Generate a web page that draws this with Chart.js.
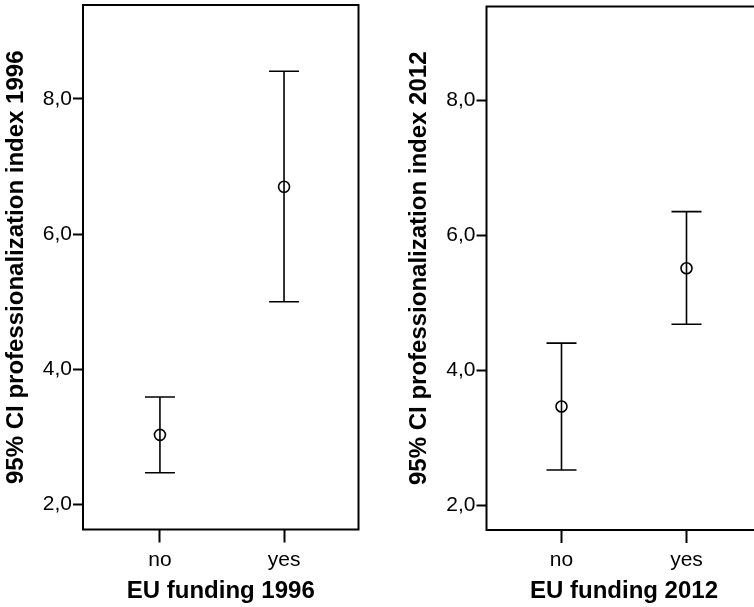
<!DOCTYPE html>
<html>
<head>
<meta charset="utf-8">
<script src="https://cdn.jsdelivr.net/npm/chart.js@4.4.1/dist/chart.umd.min.js"></script>
<style>
  html, body { margin: 0; padding: 0; background: #fff; overflow: hidden; width: 754px; height: 607px; }
  .panel { position: absolute; top: 0; height: 607px; }
</style>
</head>
<body>
<div class="panel" style="left:0;width:377px"><canvas id="c1996"></canvas></div>
<div class="panel" style="left:403px;width:400px"><canvas id="c2012"></canvas></div>
<script>
// data
const categories = ['no', 'yes'];
const yTicks = [2, 4, 6, 8];

const mean1996 = [3.03, 6.70];
const lower1996 = [2.47, 5.00];
const upper1996 = [3.59, 8.41];

const mean2012 = [3.46, 5.51];
const lower2012 = [2.52, 4.68];
const upper2012 = [4.40, 6.35];

const FONT = "'Liberation Sans', Arial, sans-serif";

// box around the plot area
const framePlugin = {
  id: 'frame',
  afterDraw(chart) {
    const a = chart.chartArea, ctx = chart.ctx;
    ctx.save();
    ctx.strokeStyle = '#000';
    ctx.lineWidth = 2;
    ctx.strokeRect(a.left, a.top, a.right - a.left, a.bottom - a.top);
    ctx.restore();
  }
};

function makeChart(id, year, mean, lower, upper, opts) {
  const datasets = [{
    type: 'scatter',
    data: mean.map((v, i) => ({ x: i, y: v })),
    pointStyle: 'circle',
    pointRadius: 5.5,
    pointBorderWidth: 1.6,
    pointBorderColor: '#000',
    pointBackgroundColor: 'rgba(0,0,0,0)'
  }];
  categories.forEach((c, i) => {
    datasets.push({
      type: 'line',
      data: [{ x: i, y: lower[i] }, { x: i, y: upper[i] }],
      borderColor: '#000',
      borderWidth: 1.6,
      pointStyle: 'line',
      pointRadius: 15,
      pointBorderWidth: 1.6,
      pointBorderColor: '#000',
      showLine: true,
      fill: false
    });
  });

  return new Chart(document.getElementById(id), {
    data: { datasets },
    options: {
      responsive: true,
      maintainAspectRatio: false,
      animation: false,
      layout: { autoPadding: false, padding: { top: opts.top, right: opts.right, left: 0, bottom: 0 } },
      plugins: { legend: { display: false }, tooltip: { enabled: false } },
      scales: {
        x: {
          type: 'linear',
          min: opts.xmin,
          max: opts.xmax,
          afterBuildTicks: s => { s.ticks = categories.map((c, i) => ({ value: i })); },
          afterFit: s => { s.height = opts.xh; s.paddingLeft = 0; s.paddingRight = 0; },
          ticks: {
            color: '#000',
            font: { family: FONT, size: 21 },
            padding: 5,
            maxRotation: 0,
            callback: v => categories[v]
          },
          grid: { drawOnChartArea: false, drawTicks: true, tickLength: 13, tickWidth: 2, tickColor: '#000' },
          border: { display: false },
          title: {
            display: true,
            text: 'EU funding ' + year,
            color: '#000',
            font: { family: FONT, size: 24, weight: 'bold' },
            padding: { top: 0, bottom: 1 }
          }
        },
        y: {
          type: 'linear',
          min: 1.63,
          max: 9.39,
          afterBuildTicks: s => { s.ticks = yTicks.map(v => ({ value: v })); },
          afterFit: s => { s.width = opts.yw; s.paddingTop = 0; s.paddingBottom = 0; },
          ticks: {
            color: '#000',
            font: { family: FONT, size: 21 },
            padding: 1,
            callback: v => v.toFixed(1).replace('.', ',')
          },
          grid: { drawOnChartArea: false, drawTicks: true, tickLength: 10, tickWidth: 2, tickColor: '#000' },
          border: { display: false },
          title: {
            display: true,
            text: '95% CI professionalization index ' + year,
            color: '#000',
            font: { family: FONT, size: 24, weight: 'bold' },
            padding: { top: 2, bottom: 0 }
          }
        }
      }
    },
    plugins: [framePlugin]
  });
}

makeChart('c1996', 1996, mean1996, lower1996, upper1996,
  { top: 5, right: 18.5, xmin: -0.62, xmax: 1.6, xh: 77.5, yw: 83 });
makeChart('c2012', 2012, mean2012, lower2012, upper2012,
  { top: 6.5, right: 41.5, xmin: -0.6, xmax: 1.6, xh: 77, yw: 83.5 });
</script>
</body>
</html>
